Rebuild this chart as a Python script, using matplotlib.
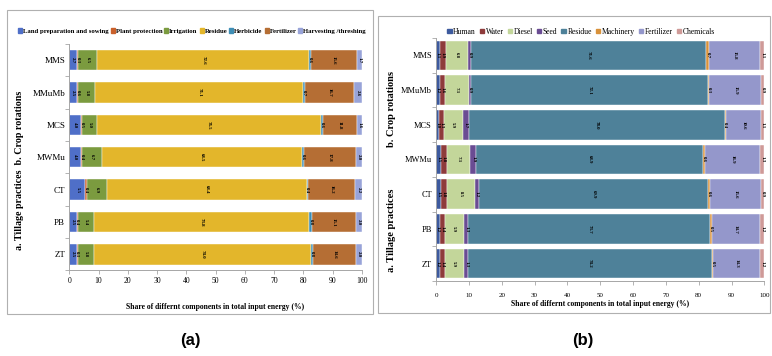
import matplotlib
matplotlib.use('Agg')
import matplotlib.pyplot as plt
from matplotlib.patches import Rectangle, Patch
import numpy as np

# filas de arriba hacia abajo
filas = ['MMS', 'MMuMb', 'MCS', 'MWMu', 'CT', 'PB', 'ZT']

# (a) componentes por operacion
comp_a = ['Land preparation and sowing', 'Plant protection', 'Irrigation', 'Residue',
          'Herbicide', 'Fertilizer', 'Harvesting /threshing']
col_a = ['#4F6FC8', '#C9602B', '#7B9B3F', '#E3B62B', '#3E8EB5', '#B56E34', '#98A3D8']
land = [2.7, 2.5, 4.0, 4.0, 5.5, 2.5, 2.5]
plant = [0.3, 0.6, 0.5, 0.4, 0.4, 0.4, 0.3]
irrig = [6.5, 5.8, 5.0, 6.7, 6.9, 5.4, 5.8]
resid_a = [72.6, 71.1, 76.5, 68.5, 68.4, 73.8, 74.0]
herb = [0.6, 0.7, 0.6, 0.6, 0.4, 0.8, 0.8]
fert_a = [15.6, 16.7, 11.8, 17.8, 16.2, 15.1, 14.6]
harv = [1.7, 2.6, 1.6, 2.0, 2.2, 2.0, 2.0]
datos_a = [land, plant, irrig, resid_a, herb, fert_a, harv]

# (b) componentes por insumo
comp_b = ['Human', 'Water', 'Diesel', 'Seed', 'Residue', 'Machinery', 'Fertilizer', 'Chemicals']
col_b = ['#3D5A9E', '#8E3B3B', '#C3D69A', '#6A4C93', '#4E8199', '#D8913A', '#9497CB', '#CF9A98']
human = [1.1, 1.2, 1.0, 1.5, 1.5, 1.2, 1.2]
water = [1.9, 1.6, 1.3, 1.8, 1.8, 1.4, 1.4]
diesel = [6.8, 7.1, 5.9, 7.1, 8.5, 5.9, 5.9]
seed = [0.9, 0.9, 1.7, 1.9, 1.2, 1.3, 1.3]
resid_b = [71.6, 72.1, 78.0, 68.9, 69.9, 73.7, 74.2]
mach = [0.7, 0.3, 0.4, 0.6, 0.6, 0.5, 0.5]
fert_b = [15.8, 15.9, 10.6, 16.9, 15.6, 14.7, 14.3]
chem = [1.1, 0.9, 1.1, 1.3, 0.9, 1.2, 1.2]
datos_b = [human, water, diesel, seed, resid_b, mach, fert_b, chem]

serif = 'Liberation Serif'
gris = '#A6A6A6'

fig = plt.figure(figsize=(7.72, 3.56), dpi=100)

# marcos de cada panel
fig.add_artist(Rectangle((0.009, 0.118), 0.474, 0.854, transform=fig.transFigure,
                         fill=False, ec='#B0B0B0', lw=0.8))
fig.add_artist(Rectangle((0.4896, 0.121), 0.508, 0.834, transform=fig.transFigure,
                         fill=False, ec='#B0B0B0', lw=0.8))


def panel(ax, datos, colores, alto, tam_tick_y, tam_tick_x, pad_x):
    y = np.arange(len(filas))
    izq = np.zeros(len(filas))
    for serie, c in zip(datos, colores):
        serie = np.array(serie)
        ax.barh(y, serie, left=izq, height=alto, color=c, edgecolor='white', lw=0.3)
        for yi, l, v in zip(y, izq, serie):
            ax.text(l + v / 2, yi, f'{v:.1f}', rotation=270, ha='center', va='center',
                    fontsize=3.5, family=serif, fontweight='bold', color='black')
        izq += serie
    ax.set_xlim(0, 100)
    ax.set_ylim(len(filas) - 0.5, -0.5)
    ax.set_xticks(range(0, 101, 10))
    ax.set_yticks(np.arange(-0.5, len(filas), 1))
    ax.set_yticklabels([])
    ax.set_yticks(y, minor=True)
    ax.set_yticklabels(filas, minor=True, family=serif, fontsize=tam_tick_y)
    ax.tick_params(axis='y', which='minor', length=0, pad=3)
    ax.tick_params(axis='y', which='major', length=3, color=gris, width=0.6)
    ax.tick_params(axis='x', length=3, color=gris, width=0.6, labelsize=tam_tick_x, pad=pad_x)
    for t in ax.get_xticklabels():
        t.set_family(serif)
    for s in ['top', 'right']:
        ax.spines[s].set_visible(False)
    for s in ['left', 'bottom']:
        ax.spines[s].set_color(gris)
        ax.spines[s].set_linewidth(0.7)


# panel (a)
ax1 = fig.add_axes([0.0898, 0.2402, 0.3788, 0.636])
panel(ax1, datos_a, col_a, 0.63, 6.5, 5.5, 2)
ax1.set_xlabel('Share of differnt components in total input energy (%)', family=serif,
               fontweight='bold', fontsize=5.5, labelpad=13)
fig.text(20 / 772, 1 - 170 / 356, 'a. Tillage practices  b. Crop rotations', rotation=90,
         ha='center', va='center', family=serif, fontweight='bold', fontsize=7.2)
h_a = [Patch(color=c) for c in col_a]
fig.legend(h_a, comp_a, loc='center', bbox_to_anchor=(192 / 772, 1 - 31 / 356), ncol=7,
           frameon=False, prop={'family': serif, 'size': 4.9, 'weight': 'bold'},
           handlelength=0.6, handleheight=0.6, handletextpad=0.12, columnspacing=0.3)

# panel (b)
ax2 = fig.add_axes([0.5648, 0.2107, 0.4253, 0.6826])
panel(ax2, datos_b, col_b, 0.85, 6, 5, 6)
ax2.set_xlabel('Share of differnt components in total input energy (%)', family=serif,
               fontweight='bold', fontsize=5.5, labelpad=1)
fig.text(392 / 772, 1 - 109 / 356, 'b. Crop rotations', rotation=90, ha='center', va='center',
         family=serif, fontweight='bold', fontsize=7.5)
fig.text(392 / 772, 1 - 230 / 356, 'a. Tillage practices', rotation=90, ha='center',
         va='center', family=serif, fontweight='bold', fontsize=7.5)
h_b = [Patch(color=c) for c in col_b]
fig.legend(h_b, comp_b, loc='center', bbox_to_anchor=(581 / 772, 1 - 31.7 / 356), ncol=8,
           frameon=False, prop={'family': serif, 'size': 5.5},
           handlelength=0.6, handleheight=0.6, handletextpad=0.2, columnspacing=0.5)

fig.text(190 / 772, 1 - 341 / 356, '(a)', ha='center', va='center', fontsize=12,
         fontweight='bold', family='Liberation Sans')
fig.text(583 / 772, 1 - 341 / 356, '(b)', ha='center', va='center', fontsize=12,
         fontweight='bold', family='Liberation Sans')

plt.savefig('out.png', dpi=100)
